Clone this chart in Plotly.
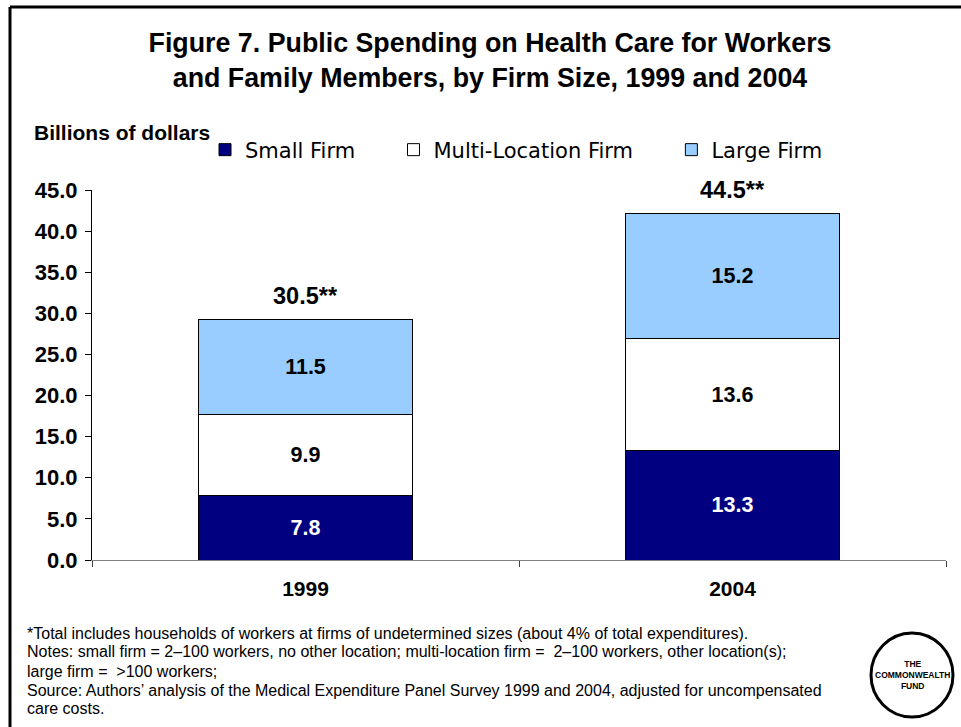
import plotly.graph_objects as go

years = ["1999", "2004"]
small_firm = [7.8, 13.3]
multi_location = [9.9, 13.6]
large_firm = [11.5, 15.2]
totals = [30.5, 44.5]
y_ticks = [0, 5, 10, 15, 20, 25, 30, 35, 40, 45]
note_lines = [
    "*Total includes households of workers at firms of undetermined sizes (about 4% of total expenditures).",
    "Notes: small firm = 2\u2013100 workers, no other location; multi-location firm =  2\u2013100 workers, other location(s);",
    "large firm =  >100 workers;",
    "Source: Authors\u2019 analysis of the Medical Expenditure Panel Survey 1999 and 2004, adjusted for uncompensated",
    "care costs.",
]

W, H = 961, 727
L, R, T, B = 92, 946, 190, 560

def px(x):
    return (x - L) / (R - L)

def py(y):
    return (B - y) / (B - T)

AR = "Arial, Liberation Sans, sans-serif"
VD = "Verdana, DejaVu Sans, sans-serif"
PAD = "\u00a0" * 5

fig = go.Figure()
series = [
    ("Small Firm" + PAD, small_firm, "#000080", "white"),
    ("Multi-Location Firm" + PAD, multi_location, "#FFFFFF", "black"),
    ("Large Firm", large_firm, "#99CCFF", "black"),
]
for name, vals, col, tcol in series:
    fig.add_trace(go.Bar(
        x=years, y=vals, name=name,
        marker=dict(color=col, line=dict(color="black", width=1)),
        texttemplate="%{y:.1f}", textposition="inside",
        insidetextanchor="middle",
        textfont=dict(family=AR, size=21.5, color=tcol, weight="bold"),
        hoverinfo="skip",
    ))

stack_tops = [a + b + c for a, b, c in zip(small_firm, multi_location, large_firm)]
for i, (tot, base) in enumerate(zip(totals, stack_tops)):
    fig.add_annotation(x=i, y=base, xref="x", yref="y", text=f"{tot:.1f}**",
                       showarrow=False, yanchor="bottom", yshift=9,
                       font=dict(family=AR, size=23.5, color="black", weight="bold"))

fig.add_annotation(x=px(32), y=py(132), xref="paper", yref="paper",
                   text="Billions of dollars", showarrow=False,
                   xanchor="left", yanchor="middle",
                   font=dict(family=AR, size=21, color="black", weight="bold"))

note_y = [633, 651, 671, 690, 708]
for line, yy in zip(note_lines, note_y):
    fig.add_annotation(x=px(25), y=py(yy), xref="paper", yref="paper",
                       text=line, showarrow=False, align="left",
                       xanchor="left", yanchor="middle",
                       font=dict(family=AR, size=16, color="black"))

# logo
fig.add_shape(type="circle", xref="paper", yref="paper",
              x0=px(871), x1=px(953), y0=py(717), y1=py(633),
              line=dict(color="black", width=3), fillcolor="white")
fig.add_annotation(x=px(912), y=py(675), xref="paper", yref="paper",
                   text="THE<br>COMMONWEALTH<br>FUND", showarrow=False,
                   align="center", xanchor="center", yanchor="middle",
                   font=dict(family=AR, size=8.5, color="black", weight="bold"))

# frame
fig.add_shape(type="line", xref="paper", yref="paper",
              x0=px(10), x1=px(975), y0=py(7), y1=py(7),
              line=dict(color="black", width=3))
fig.add_shape(type="line", xref="paper", yref="paper",
              x0=px(10), x1=px(10), y0=py(7), y1=py(740),
              line=dict(color="black", width=3))

fig.update_layout(
    width=W, height=H,
    margin=dict(l=L, r=W - R, t=T, b=H - B, pad=0),
    barmode="stack", bargap=0.5,
    plot_bgcolor="white", paper_bgcolor="white",
    title=dict(text="Figure 7. Public Spending on Health Care for Workers<br>and Family Members, by Firm Size, 1999 and 2004",
               x=490 / W, xanchor="center", xref="container",
               y=1 - 52 / H, yanchor="middle", yref="container",
               font=dict(family=AR, size=26.8, color="black", weight="bold")),
    legend=dict(orientation="h", x=px(205), y=py(150), xanchor="left", yanchor="middle",
                traceorder="normal", itemwidth=30,
                font=dict(family=VD, size=21, color="black"),
                bgcolor="rgba(0,0,0,0)"),
    xaxis=dict(type="category", range=[-0.5, 1.5], showline=True, linecolor="#808080", linewidth=1,
               ticks="outside", tickson="boundaries", ticklen=6, tickcolor="#404040",
               ticklabelstandoff=10,
               tickfont=dict(family=AR, size=21, color="black", weight="bold"),
               showgrid=False, fixedrange=True),
    yaxis=dict(range=[0, 45], tickvals=y_ticks, tickformat=".1f",
               showline=True, linecolor="black", linewidth=1,
               ticks="outside", ticklen=6, tickcolor="black",
               ticklabelstandoff=3,
               tickfont=dict(family=AR, size=22, color="black", weight="bold"),
               showgrid=False, zeroline=False, fixedrange=True),
    showlegend=True,
)

fig.write_html("out.html", config={"displayModeBar": False},
               post_script="document.body.style.margin='0';")
